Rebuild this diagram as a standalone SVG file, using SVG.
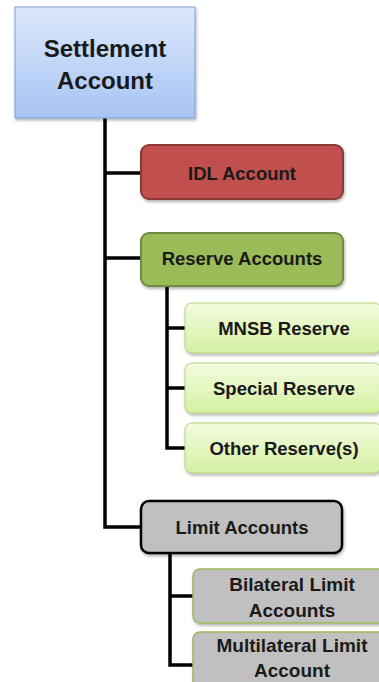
<svg xmlns="http://www.w3.org/2000/svg" width="379" height="682" viewBox="0 0 379 682">
<defs>
<linearGradient id="gBlue" x1="0" y1="0" x2="0" y2="1"><stop offset="0" stop-color="#dce8fb"/><stop offset="1" stop-color="#a7c4f4"/></linearGradient>
<linearGradient id="gLight" x1="0" y1="0" x2="0" y2="1"><stop offset="0" stop-color="#f3fcdf"/><stop offset="1" stop-color="#d5f0a2"/></linearGradient>
<filter id="sh" x="-10%" y="-10%" width="130%" height="140%"><feDropShadow dx="1" dy="2" stdDeviation="1.5" flood-color="#000" flood-opacity="0.3"/></filter>
<style>
.t{font-family:"Liberation Sans",Arial,sans-serif;font-weight:bold;fill:#1a1a1a;text-anchor:middle}
.big{font-size:24px}
.mid{font-size:18.5px}
.sm{font-size:18.5px}
.lo{font-size:19px}
.ln{stroke:#000;stroke-width:3.5;fill:none}
</style>
</defs>
<g id="connectors">
<path class="ln" d="M105 118 V527 H141"/>
<path class="ln" d="M105 173 H141"/>
<path class="ln" d="M105 258 H141"/>
<path class="ln" d="M167 286 V448 H185"/>
<path class="ln" d="M167 328 H185"/>
<path class="ln" d="M167 388 H185"/>
<path class="ln" d="M170 553 V665 H193"/>
<path class="ln" d="M170 596 H193"/>
</g>
<g id="settlement">
<rect x="15" y="7" width="180" height="111" fill="url(#gBlue)" stroke="#7f9fd3" stroke-width="1" filter="url(#sh)"/>
<text class="t big" x="105" y="57">Settlement</text>
<text class="t big" x="105" y="89">Account</text>
</g>
<g id="idl">
<rect x="141" y="145" width="202" height="54" rx="8" fill="#c0504d" stroke="#8c3836" stroke-width="2" filter="url(#sh)"/>
<text class="t mid" x="242" y="179.5">IDL Account</text>
</g>
<g id="reserve">
<rect x="141" y="233" width="202" height="53" rx="8" fill="#9bbb59" stroke="#71893f" stroke-width="2" filter="url(#sh)"/>
<text class="t mid" x="242" y="264.5">Reserve Accounts</text>
</g>
<g id="mnsb">
<rect x="185" y="303" width="196" height="50" rx="7" fill="url(#gLight)" stroke="#b4d27a" stroke-width="1" filter="url(#sh)"/>
<text class="t sm" x="284" y="334.5">MNSB Reserve</text>
</g>
<g id="special">
<rect x="185" y="363" width="196" height="50" rx="7" fill="url(#gLight)" stroke="#b4d27a" stroke-width="1" filter="url(#sh)"/>
<text class="t sm" x="284" y="394.5">Special Reserve</text>
</g>
<g id="other">
<rect x="185" y="423" width="196" height="50" rx="7" fill="url(#gLight)" stroke="#b4d27a" stroke-width="1" filter="url(#sh)"/>
<text class="t sm" x="284" y="454.5">Other Reserve(s)</text>
</g>
<g id="limit">
<rect x="141" y="501" width="201" height="52" rx="8" fill="#c0c0c0" stroke="#000" stroke-width="2.5" filter="url(#sh)"/>
<text class="t mid" x="242" y="533.5">Limit Accounts</text>
</g>
<g id="bilateral">
<rect x="193" y="569" width="198" height="54" rx="7" fill="#c0c0c0" stroke="#9bbb59" stroke-width="1.5" filter="url(#sh)"/>
<text class="t lo" x="292" y="591">Bilateral Limit</text>
<text class="t lo" x="292" y="617">Accounts</text>
</g>
<g id="multilateral">
<rect x="193" y="632" width="198" height="60" rx="7" fill="#c0c0c0" stroke="#9bbb59" stroke-width="1.5" filter="url(#sh)"/>
<text class="t lo" x="292" y="652">Multilateral Limit</text>
<text class="t lo" x="292" y="677">Account</text>
</g>
</svg>
